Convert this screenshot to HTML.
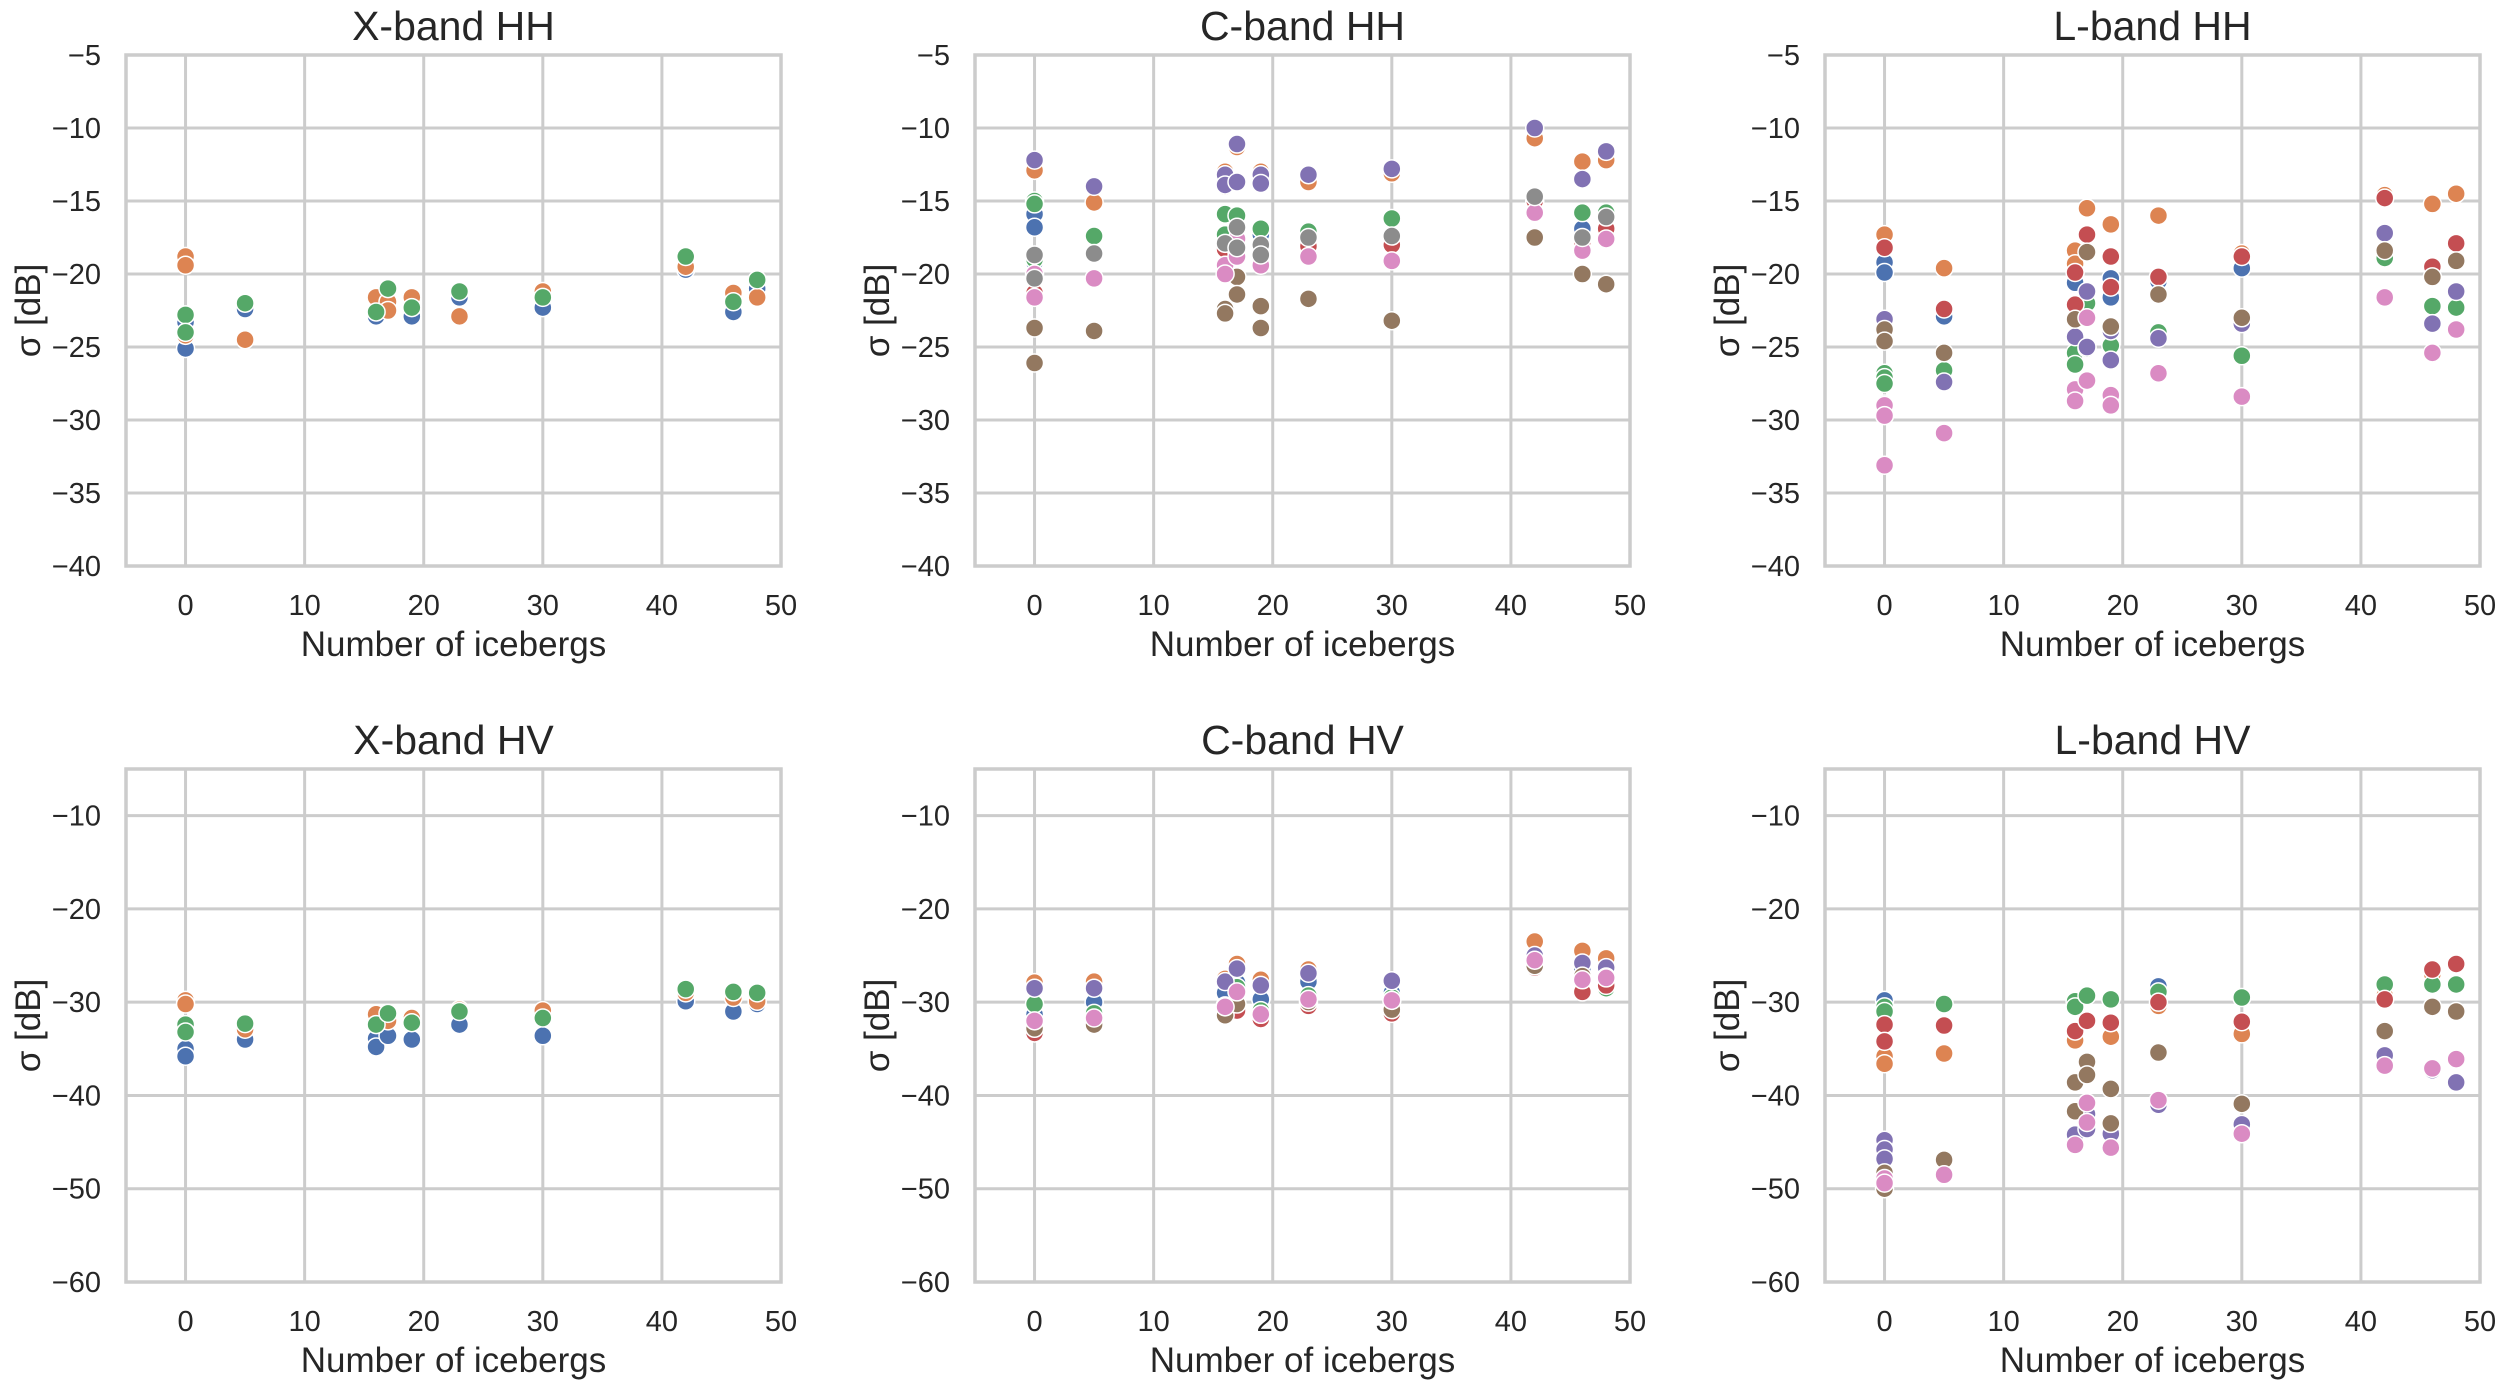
<!DOCTYPE html>
<html><head><meta charset="utf-8"><style>
html,body{margin:0;padding:0;background:#fff}
svg{display:block}
text{font-family:"Liberation Sans",sans-serif;fill:#262626}
</style></head><body>
<svg id="fig" width="2500" height="1383" viewBox="0 0 2500 1383" xmlns="http://www.w3.org/2000/svg"></svg>
<script>
const xTicks=[0,10,20,30,40,50];
const yTicksHH=[-5,-10,-15,-20,-25,-30,-35,-40];
const yTicksHV=[-10,-20,-30,-40,-50,-60];
const colors={blue:'#4c72b0',orange:'#dd8452',green:'#55a868',red:'#c44e52',purple:'#8172b3',brown:'#937860',pink:'#da8bc3',gray:'#8c8c8c'};

const xhh_orange=[[0,-18.8],[0,-19.4],[0,-24.2],[5,-24.5],[16,-21.6],[17,-21.9],[17,-22.5],[19,-21.6],[23,-22.9],[30,-21.2],[42,-19.5],[46,-21.3],[48,-21.6]];
const xhh_blue=[[0,-23.3],[0,-25.1],[5,-22.4],[16,-22.9],[17,-22.1],[19,-22.9],[23,-21.6],[30,-22.3],[42,-19.7],[46,-22.6],[48,-21.0]];
const xhh_green=[[0,-22.8],[0,-24.0],[5,-22.0],[16,-22.6],[17,-21.0],[19,-22.3],[23,-21.2],[30,-21.6],[42,-18.8],[46,-21.9],[48,-20.4]];

const chh_blue=[[0,-15.9],[0,-16.8],[0,-19.2],[16,-17.6],[17,-17.5],[19,-17.3],[23,-17.0],[30,-17.4],[46,-16.9],[48,-16.0]];
const chh_orange=[[0,-12.9],[5,-15.1],[16,-13.0],[16,-14.0],[17,-11.3],[19,-13.0],[23,-13.7],[30,-13.1],[42,-10.7],[46,-12.3],[48,-12.2]];
const chh_green=[[0,-15.0],[0,-15.2],[0,-19.0],[5,-17.4],[16,-15.9],[16,-17.3],[17,-16.0],[19,-16.9],[23,-17.1],[30,-16.2],[42,-15.0],[46,-15.8],[48,-15.8]];
const chh_red=[[0,-21.3],[16,-18.3],[17,-18.5],[19,-18.5],[23,-18.1],[30,-18.0],[42,-15.0],[46,-17.8],[48,-16.9]];
const chh_purple=[[0,-12.2],[5,-14.0],[16,-13.2],[16,-13.9],[17,-11.1],[17,-13.7],[19,-13.2],[19,-13.8],[23,-13.2],[30,-12.8],[42,-10.0],[46,-13.5],[48,-11.6]];
const chh_brown=[[0,-23.7],[0,-26.1],[5,-23.9],[16,-22.4],[16,-22.7],[17,-20.2],[17,-21.4],[19,-22.2],[19,-23.7],[23,-21.7],[30,-23.2],[42,-17.5],[46,-20.0],[48,-20.7]];
const chh_pink=[[0,-20.0],[0,-21.6],[5,-20.3],[16,-19.4],[16,-20.0],[17,-17.6],[17,-18.8],[19,-19.4],[23,-18.8],[30,-19.1],[42,-15.8],[46,-18.4],[48,-17.6]];
const chh_gray=[[0,-18.7],[0,-20.3],[5,-18.6],[16,-17.9],[17,-16.8],[17,-18.2],[19,-18.0],[19,-18.7],[23,-17.5],[30,-17.4],[42,-14.7],[46,-17.5],[48,-16.1]];

const lhh_blue=[[0,-19.2],[0,-19.9],[5,-22.9],[16,-20.6],[17,-21.4],[19,-20.3],[19,-21.6],[23,-20.5],[30,-19.6]];
const lhh_orange=[[0,-17.3],[5,-19.6],[16,-18.4],[16,-19.3],[17,-15.5],[19,-16.6],[23,-16.0],[30,-18.6],[42,-14.6],[46,-15.2],[48,-14.5]];
const lhh_green=[[0,-26.8],[0,-27.1],[0,-27.5],[5,-26.6],[16,-25.4],[16,-26.2],[17,-22.0],[17,-25.1],[19,-24.9],[23,-24.0],[30,-25.6],[42,-18.9],[46,-22.2],[48,-22.3]];
const lhh_red=[[0,-18.2],[5,-22.4],[16,-19.9],[16,-22.1],[17,-17.3],[19,-18.8],[19,-20.9],[23,-20.2],[30,-18.8],[42,-14.8],[46,-19.5],[48,-17.9]];
const lhh_purple=[[0,-23.1],[0,-28.9],[5,-27.4],[16,-24.3],[17,-21.2],[17,-25.0],[19,-23.9],[19,-25.9],[23,-24.4],[30,-23.4],[42,-17.2],[46,-23.4],[48,-21.2]];
const lhh_brown=[[0,-23.8],[0,-24.6],[5,-25.4],[16,-23.1],[17,-18.5],[19,-23.6],[23,-21.4],[30,-23.0],[42,-18.4],[46,-20.2],[48,-19.1]];
const lhh_pink=[[0,-29.0],[0,-29.7],[0,-33.1],[5,-30.9],[16,-27.9],[16,-28.7],[17,-23.0],[17,-27.3],[19,-28.3],[19,-29.0],[23,-26.8],[30,-28.4],[42,-21.6],[46,-25.4],[48,-23.8]];

const xhv_blue=[[0,-35.0],[0,-35.8],[5,-34.0],[16,-33.9],[16,-34.8],[17,-33.6],[19,-34.0],[23,-32.4],[30,-33.6],[42,-29.9],[46,-31.0],[48,-30.2]];
const xhv_orange=[[0,-29.8],[0,-30.2],[5,-32.9],[16,-31.3],[17,-32.0],[19,-31.7],[23,-30.8],[30,-30.9],[42,-29.0],[46,-29.5],[48,-29.9]];
const xhv_green=[[0,-32.4],[0,-33.2],[5,-32.3],[16,-32.4],[17,-31.2],[19,-32.2],[23,-31.0],[30,-31.7],[42,-28.6],[46,-28.9],[48,-29.0]];

const chv_blue=[[0,-31.3],[5,-30.0],[16,-29.0],[17,-27.9],[19,-29.7],[23,-27.8],[30,-29.0],[42,-25.8],[46,-26.4],[48,-27.0]];
const chv_orange=[[0,-27.9],[5,-27.8],[16,-27.5],[17,-25.9],[19,-27.6],[23,-26.5],[42,-23.5],[46,-24.5],[48,-25.3]];
const chv_green=[[0,-30.2],[5,-31.2],[16,-30.4],[17,-28.4],[19,-30.9],[23,-29.3],[30,-29.5],[42,-26.0],[46,-27.6],[48,-28.5]];
const chv_red=[[0,-33.3],[16,-30.5],[17,-30.9],[19,-31.8],[23,-30.4],[30,-31.2],[42,-26.3],[46,-28.9],[48,-28.2]];
const chv_brown=[[0,-32.8],[5,-32.4],[16,-31.4],[17,-30.2],[19,-31.3],[23,-30.0],[30,-30.8],[42,-26.1],[46,-27.2],[48,-27.3]];
const chv_purple=[[0,-28.5],[5,-28.5],[16,-27.8],[17,-26.4],[19,-28.2],[23,-26.9],[30,-27.7],[42,-25.0],[46,-25.8],[48,-26.3]];
const chv_pink=[[0,-32.0],[5,-31.7],[16,-30.5],[17,-28.9],[19,-31.3],[23,-29.7],[30,-29.8],[42,-25.5],[46,-27.6],[48,-27.4]];

const lhv_blue=[[0,-29.8],[23,-28.3]];
const lhv_orange=[[0,-35.8],[0,-36.6],[5,-35.5],[16,-34.1],[19,-33.7],[23,-30.4],[30,-33.4],[42,-29.3],[46,-27.0]];
const lhv_green=[[0,-30.5],[0,-31.0],[5,-30.2],[16,-29.9],[16,-30.5],[17,-29.3],[19,-29.7],[23,-28.9],[30,-29.5],[42,-28.1],[46,-28.1],[48,-28.1]];
const lhv_red=[[0,-32.4],[0,-34.2],[5,-32.5],[16,-33.1],[17,-32.0],[19,-32.2],[23,-30.0],[30,-32.1],[42,-29.7],[46,-26.5],[48,-25.9]];
const lhv_purple=[[0,-44.8],[0,-45.8],[0,-46.8],[16,-44.2],[17,-42.0],[17,-43.6],[19,-44.1],[23,-41.0],[30,-43.1],[42,-35.7],[46,-37.3],[48,-38.6]];
const lhv_brown=[[0,-48.3],[0,-50.0],[5,-46.9],[16,-38.6],[16,-41.7],[17,-36.4],[17,-37.8],[19,-39.3],[19,-43.0],[23,-35.4],[30,-40.9],[42,-33.1],[46,-30.5],[48,-31.0]];
const lhv_pink=[[0,-48.9],[0,-49.4],[5,-48.5],[16,-45.3],[17,-40.8],[17,-42.9],[19,-45.6],[23,-40.5],[30,-44.1],[42,-36.8],[46,-37.1],[48,-36.1]];

const panels=[
 {name:'x-band-hh',title:'X-band HH',col:0,row:0,ymin:-40,ymax:-5,ticks:yTicksHH,series:[['blue',xhh_blue],['orange',xhh_orange],['green',xhh_green]]},
 {name:'c-band-hh',title:'C-band HH',col:1,row:0,ymin:-40,ymax:-5,ticks:yTicksHH,series:[['blue',chh_blue],['orange',chh_orange],['green',chh_green],['red',chh_red],['purple',chh_purple],['brown',chh_brown],['pink',chh_pink],['gray',chh_gray]]},
 {name:'l-band-hh',title:'L-band HH',col:2,row:0,ymin:-40,ymax:-5,ticks:yTicksHH,series:[['blue',lhh_blue],['orange',lhh_orange],['green',lhh_green],['red',lhh_red],['purple',lhh_purple],['brown',lhh_brown],['pink',lhh_pink]]},
 {name:'x-band-hv',title:'X-band HV',col:0,row:1,ymin:-60,ymax:-5,ticks:yTicksHV,series:[['blue',xhv_blue],['orange',xhv_orange],['green',xhv_green]]},
 {name:'c-band-hv',title:'C-band HV',col:1,row:1,ymin:-60,ymax:-5,ticks:yTicksHV,series:[['blue',chv_blue],['orange',chv_orange],['green',chv_green],['red',chv_red],['purple',chv_purple],['brown',chv_brown],['pink',chv_pink]]},
 {name:'l-band-hv',title:'L-band HV',col:2,row:1,ymin:-60,ymax:-5,ticks:yTicksHV,series:[['blue',lhv_blue],['orange',lhv_orange],['green',lhv_green],['red',lhv_red],['purple',lhv_purple],['brown',lhv_brown],['pink',lhv_pink]]}
];

const NS='http://www.w3.org/2000/svg';
const svg=document.getElementById('fig');
const colL=[126,975,1825], W=655;
const rowT=[55,769], rowB=[566,1282];
function mk(tag,attrs,parent){const e=document.createElementNS(NS,tag);for(const k in attrs)e.setAttribute(k,attrs[k]);parent.appendChild(e);return e;}

panels.forEach(p=>{
  const L=colL[p.col],R=L+W,T=rowT[p.row],B=rowB[p.row];
  const sx=v=>L+(v-(-5))/55*(R-L);
  const sy=v=>B-(v-p.ymin)/(p.ymax-p.ymin)*(B-T);
  const g=mk('g',{},svg);
  
  
  xTicks.forEach(t=>{
    const l=mk('line',{x1:sx(t),x2:sx(t),y1:T,y2:B,stroke:'#cccccc','stroke-width':3},g);
    
    
    const tx=mk('text',{x:sx(t),y:B+49,'font-size':29,'text-anchor':'middle'},g);
    tx.textContent=String(t);
    
    
  });
  p.ticks.forEach(t=>{
    const l=mk('line',{x1:L,x2:R,y1:sy(t),y2:sy(t),stroke:'#cccccc','stroke-width':3},g);
    
    
    const tx=mk('text',{x:L-25,y:sy(t)+10,'font-size':29,'text-anchor':'end'},g);
    tx.textContent=String(t).replace('-','\u2212');
    
    
  });
  const fr=mk('rect',{x:L,y:T,width:R-L,height:B-T,fill:'none',stroke:'#cccccc','stroke-width':3.5},g);
  
  
  p.series.forEach(([c,pts])=>{
    pts.forEach(([x,y])=>{
      const m=mk('circle',{cx:sx(x),cy:sy(y),r:9,fill:colors[c],stroke:'#ffffff','stroke-width':1.5},g);
      
      
    });
  });
  const ti=mk('text',{x:(L+R)/2,y:T-15,'font-size':41,'text-anchor':'middle'},g);
  ti.textContent=p.title;
  
  
  const xl=mk('text',{x:(L+R)/2,y:B+90,'font-size':35,'text-anchor':'middle'},g);
  xl.textContent='Number of icebergs';
  
  
  const yc=(T+B)/2, yx=L-86;
  const yl=mk('text',{x:yx,y:yc,'font-size':35,'text-anchor':'middle',transform:'rotate(-90 '+yx+' '+yc+')'},g);
  yl.textContent='\u03c3 [dB]';
  
  
});
</script>
</body></html>
